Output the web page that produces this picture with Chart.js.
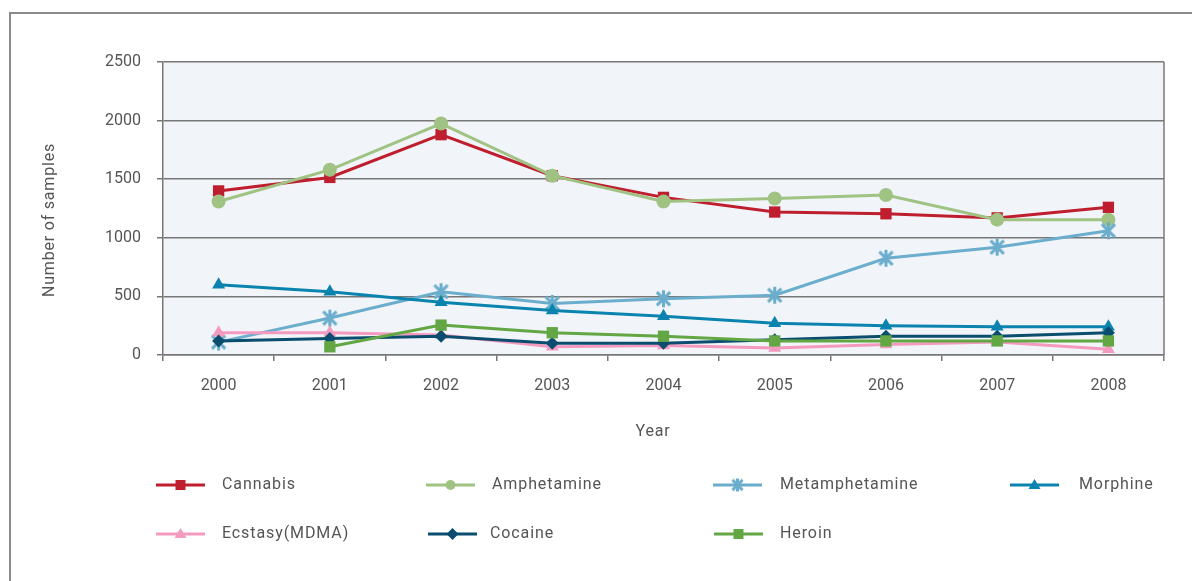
<!DOCTYPE html>
<html>
<head>
<meta charset="utf-8">
<script src="https://cdn.jsdelivr.net/npm/chart.js"></script>
<style>
  html, body { margin: 0; padding: 0; background: #ffffff; }
  #wrap { position: relative; width: 1192px; height: 581px; }
  canvas { display: block; }
</style>
</head>
<body>
<div id="wrap"><canvas id="c" width="1192" height="581"></canvas></div>
<script>
// ---- Data ----
const years = ['2000', '2001', '2002', '2003', '2004', '2005', '2006', '2007', '2008'];
const cannabis       = [1400, 1515, 1880, 1530, 1345, 1220, 1205, 1170, 1260];
const amphetamine    = [1310, 1580, 1975, 1530, 1310, 1335, 1365, 1155, 1155];
const metamphetamine = [110, 315, 540, 440, 480, 510, 825, 920, 1060];
const morphine       = [600, 540, 450, 380, 330, 270, 250, 240, 240];
const ecstasy        = [190, 190, 170, 70, 80, 60, 90, 110, 50];
const cocaine        = [120, 140, 160, 100, 100, 130, 160, 160, 190];
const heroin         = [null, 70, 255, 190, 160, 120, 120, 120, 120];
const yTicks = [0, 500, 1000, 1500, 2000, 2500];
const seriesNames = ['Cannabis', 'Amphetamine', 'Metamphetamine', 'Morphine', 'Ecstasy(MDMA)', 'Cocaine', 'Heroin'];
const xTitle = 'Year';
const yTitle = 'Number of samples';

// ---- Styles ----
const FONT = 'Roboto, "Open Sans", sans-serif';
const TEXT = '#555555';
const AXIS = '#777777';

function makeAsterisk(size, color, lw) {
  const c = document.createElement('canvas');
  c.width = size; c.height = size;
  const g = c.getContext('2d');
  g.strokeStyle = color; g.lineWidth = lw; g.lineCap = 'butt';
  const m = size / 2, r = size / 2 - 1, d = r * 0.78;
  g.beginPath();
  g.moveTo(m, m - r); g.lineTo(m, m + r);
  g.moveTo(m - d, m - d); g.lineTo(m + d, m + d);
  g.moveTo(m + d, m - d); g.lineTo(m - d, m + d);
  g.stroke();
  return c;
}

const colors = ['#be1e2d', '#a0c384', '#6badcc', '#0a84ae', '#f49ac1', '#0b4d6e', '#62a744'];
const styles = ['rect', 'circle', makeAsterisk(19, '#6badcc', 3), 'triangle', 'triangle', 'rectRot', 'rect'];
const radii = [8, 7, 8, 7.5, 7.5, 6.5, 8];
const allData = [cannabis, amphetamine, metamphetamine, morphine, ecstasy, cocaine, heroin];

const datasets = allData.map((d, i) => ({
  label: seriesNames[i],
  data: d,
  borderColor: colors[i],
  backgroundColor: colors[i],
  borderWidth: 3,
  pointStyle: styles[i],
  pointRadius: radii[i],
  pointBorderWidth: 0,
  pointBackgroundColor: colors[i],
  pointBorderColor: colors[i],
  tension: 0,
  spanGaps: false,
  order: allData.length - i
}));

// legend layout (x of line start, y centre, text x)
const legendPos = [
  [156, 485, 222], [426, 485, 492], [713, 485, 780], [1010, 485, 1079],
  [156, 534, 222], [428, 534, 490], [714, 534, 780]
];

function drawMarker(ctx, kind, x, y, color) {
  ctx.save();
  ctx.fillStyle = color; ctx.strokeStyle = color;
  ctx.beginPath();
  if (kind === 'rect') {
    ctx.rect(x - 5, y - 5, 10, 10); ctx.fill();
  } else if (kind === 'circle') {
    ctx.arc(x, y, 5, 0, Math.PI * 2); ctx.fill();
  } else if (kind === 'triangle') {
    ctx.moveTo(x, y - 6); ctx.lineTo(x + 6, y + 4); ctx.lineTo(x - 6, y + 4); ctx.closePath(); ctx.fill();
  } else if (kind === 'rectRot') {
    ctx.moveTo(x, y - 6); ctx.lineTo(x + 6, y); ctx.lineTo(x, y + 6); ctx.lineTo(x - 6, y); ctx.closePath(); ctx.fill();
  } else if (kind instanceof HTMLCanvasElement) {
    ctx.drawImage(kind, x - kind.width / 2, y - kind.height / 2);
  }
  ctx.restore();
}

const legendAsterisk = makeAsterisk(15, '#6badcc', 3);

const decor = {
  id: 'decor',
  beforeDraw(chart) {
    const { ctx, chartArea: a } = chart;
    ctx.save();
    ctx.fillStyle = '#ffffff';
    ctx.fillRect(0, 0, chart.width, chart.height);
    // outer frame (top + left visible)
    ctx.strokeStyle = '#8a8a8a';
    ctx.lineWidth = 2;
    ctx.beginPath();
    ctx.moveTo(10, chart.height); ctx.lineTo(10, 13); ctx.lineTo(chart.width, 13);
    ctx.stroke();
    // plot background
    ctx.fillStyle = '#f1f5f9';
    ctx.fillRect(a.left, a.top, a.right - a.left, a.bottom - a.top);
    ctx.restore();
  },
  beforeDatasetsDraw(chart) {
    const { ctx, chartArea: a } = chart;
    ctx.save();
    ctx.strokeStyle = AXIS;
    ctx.lineWidth = 1.5;
    ctx.beginPath();
    ctx.moveTo(a.right, a.top); ctx.lineTo(a.right, a.bottom);
    ctx.stroke();
    ctx.restore();
  },
  afterDraw(chart) {
    const { ctx } = chart;
    // axis titles
    ctx.save();
    ctx.fillStyle = TEXT;
    ctx.font = '16px ' + FONT;
    if ('letterSpacing' in ctx) ctx.letterSpacing = '0.8px';
    ctx.textAlign = 'center';
    ctx.textBaseline = 'middle';
    ctx.fillText(xTitle, 653, 432);
    ctx.translate(50, 220);
    ctx.rotate(-Math.PI / 2);
    ctx.fillText(yTitle, 0, 0);
    ctx.restore();
    // legend
    chart.data.datasets.forEach((ds, i) => {
      const [lx, ly, tx] = legendPos[i];
      ctx.save();
      ctx.strokeStyle = ds.borderColor;
      ctx.lineWidth = 3;
      ctx.beginPath();
      ctx.moveTo(lx, ly); ctx.lineTo(lx + 49, ly);
      ctx.stroke();
      ctx.restore();
      const kind = i === 2 ? legendAsterisk : ds.pointStyle;
      drawMarker(ctx, kind, lx + 24.5, ly, ds.borderColor);
      ctx.save();
      ctx.fillStyle = TEXT;
      ctx.font = '16px ' + FONT;
      if ('letterSpacing' in ctx) ctx.letterSpacing = '0.9px';
      ctx.textBaseline = 'middle';
      ctx.textAlign = 'left';
      ctx.fillText(ds.label, tx, ly);
      ctx.restore();
    });
  }
};

Chart.defaults.font.family = FONT;
Chart.defaults.font.size = 16;
Chart.defaults.color = TEXT;

new Chart(document.getElementById('c'), {
  type: 'line',
  data: { labels: years, datasets },
  options: {
    responsive: false,
    devicePixelRatio: 1,
    animation: false,
    layout: { padding: { left: 0, top: 62, right: 28, bottom: 136 } },
    plugins: { legend: { display: false }, tooltip: { enabled: false } },
    scales: {
      x: {
        type: 'category',
        offset: true,
        grid: { offset: true, drawOnChartArea: false, drawTicks: true, tickLength: 6, color: AXIS, lineWidth: 1.5 },
        border: { display: true, color: AXIS, width: 1.5 },
        ticks: { padding: 15, color: TEXT, font: { size: 16 }, maxRotation: 0 },
        title: { display: false },
        afterFit(scale) { scale.height = 90; }
      },
      y: {
        min: 0, max: 2500,
        afterBuildTicks(scale) { scale.ticks = yTicks.map(v => ({ value: v })); },
        grid: { color: AXIS, lineWidth: 1.5, tickLength: 6, drawTicks: true },
        border: { display: true, color: AXIS, width: 1.5 },
        ticks: { padding: 16, color: TEXT, font: { size: 16 }, callback: (v) => String(v) },
        title: { display: false },
        afterFit(scale) { scale.width = 163; }
      }
    }
  },
  plugins: [decor]
});
</script>
</body>
</html>
